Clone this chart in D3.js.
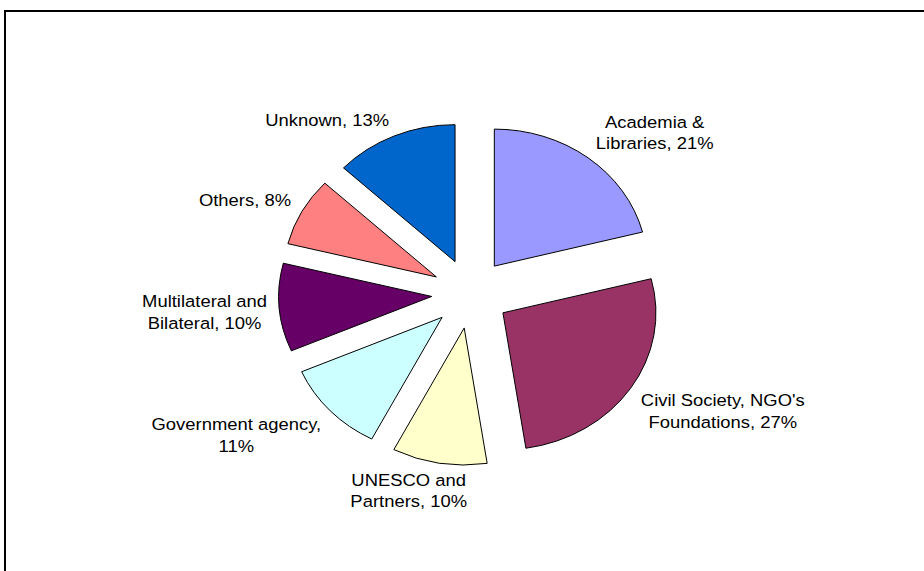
<!DOCTYPE html>
<html>
<head>
<meta charset="utf-8">
<script src="https://cdn.jsdelivr.net/npm/d3@7"></script>
<style>
  html, body { margin: 0; padding: 0; background: #fff; }
  svg { display: block; }
  text { font-family: "Liberation Sans", Arial, sans-serif; font-size: 16.5px; fill: #000; }
</style>
</head>
<body>
<svg id="chart" width="924" height="571"></svg>
<script>
// ---- data ----
const categories = ["Academia &\nLibraries", "Civil Society, NGO's\nFoundations", "UNESCO and\nPartners",
                    "Government agency\n", "Multilateral and\nBilateral", "Others", "Unknown"];
const values = [21.0, 26.6, 10.0, 10.9, 10.4, 8.1, 13.0];
const colors = ["#9999FF", "#993366", "#FFFFCC", "#CCFFFF", "#660066", "#FF8080", "#0066CC"];

// ---- layout ----
const W = 924, H = 571;
const SX = 1.117;             // horizontal stretch of the original picture
const cx = 470.5, cy = 293.6; // pie centre
const R = 137;                // radius (unstretched)
const EXPLODE = 34.8;         // explosion distance
const GAP = 11;
const LINE = 21.5;
const CAP = 11.8;

const svg = d3.select("#chart");

// frame
svg.append("rect")
  .attr("x", 5).attr("y", 11)
  .attr("width", W + 20).attr("height", H + 20)
  .attr("fill", "none").attr("stroke", "#000").attr("stroke-width", 2);

const total = d3.sum(values);
const pie = d3.pie().sort(null).value(d => d.value).startAngle(0).endAngle(2 * Math.PI);
const data = categories.map((c, i) => ({ cat: c, value: values[i], color: colors[i] }));
const arcs = pie(data);
const arc = d3.arc().innerRadius(0).outerRadius(R);

const g = svg.append("g").attr("transform", `translate(${cx},${cy}) scale(${SX},1)`);

g.selectAll("path.slice")
  .data(arcs)
  .join("path")
  .attr("class", "slice")
  .attr("transform", d => {
    const a = (d.startAngle + d.endAngle) / 2;
    return `translate(${EXPLODE * Math.sin(a)},${-EXPLODE * Math.cos(a)})`;
  })
  .attr("d", arc)
  .attr("fill", d => d.data.color)
  .attr("stroke", "#000")
  .attr("stroke-width", 1)
  .attr("vector-effect", "non-scaling-stroke")
  .attr("stroke-linejoin", "miter");

// labels
const clamp = v => Math.max(-1, Math.min(1, v));
const labelsG = svg.append("g");
arcs.forEach(d => {
  const pct = d3.format(".0f")(d.data.value / total * 100);
  const txt = (d.data.cat + ", " + pct + "%").replace("\n, ", ",\n");
  const lines = txt.split("\n");
  const lg = labelsG.append("g");
  const t = lg.append("text").attr("text-anchor", "middle");
  lines.forEach((ln, i) => {
    t.append("tspan").attr("x", 0).attr("y", i * LINE).text(ln);
  });
  const bw = t.node().getBBox().width * SX;
  const bh = (lines.length - 1) * LINE + CAP;
  const a = (d.startAngle + d.endAngle) / 2;
  const s = Math.sin(a), c = Math.cos(a);
  const px = cx + SX * (EXPLODE + R) * s;
  const py = cy - (EXPLODE + R) * c;
  const lx = px + clamp(3 * s) * bw / 2 + GAP * SX * s;
  const ly = py + clamp(-2.5 * c) * bh / 2 - GAP * c;
  const firstBaseline = ly - (lines.length - 1) * LINE / 2 + CAP / 2;
  lg.attr("transform", `translate(${lx},${firstBaseline}) scale(${SX},1)`);
});
</script>
</body>
</html>
